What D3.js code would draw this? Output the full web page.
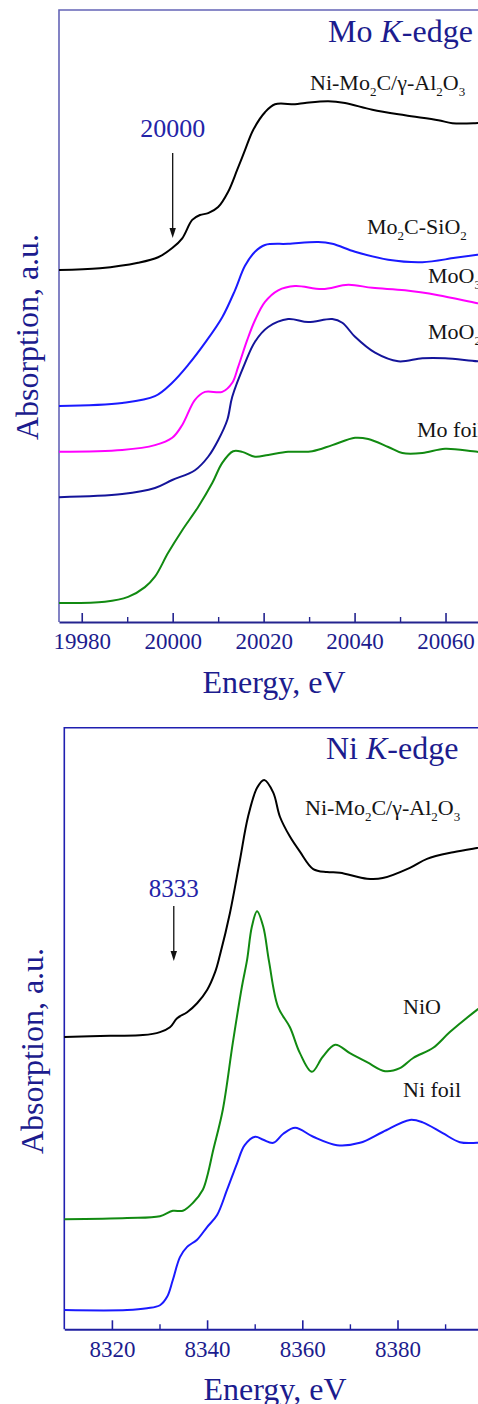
<!DOCTYPE html>
<html>
<head>
<meta charset="utf-8">
<script src="https://cdn.jsdelivr.net/npm/d3@7/dist/d3.min.js"></script>
<style>
  html, body { margin: 0; padding: 0; background: #ffffff; }
  svg { display: block; }
  text { font-family: "Liberation Serif", "Times New Roman", serif; }
</style>
</head>
<body>
<svg id="chart" width="478" height="1404"></svg>
<script>
// ---- Mo K-edge XANES (energy in eV, normalized absorption with vertical offsets) ----
const moEnergyTicks = [19980, 20000, 20020, 20040, 20060];
const moMinorTicks = [19990, 20010, 20030, 20050, 20070];

const moNiMo2C = [
  [19975, 57.5], [19984, 57.8], [19992.4, 58.7], [19996.8, 59.6], [19999.9, 61.1],
  [20002.1, 62.7], [20004.3, 65.7], [20006.0, 66.5], [20007.8, 66.8], [20010.0, 67.8],
  [20012.2, 70.3], [20014.2, 73.9], [20015.9, 77.1], [20017.7, 80.4], [20020.3, 83.3],
  [20022.5, 84.6], [20026.9, 84.6], [20029.1, 84.8], [20034.2, 85.1], [20037.9, 84.8],
  [20043.9, 83.7], [20051.1, 82.8], [20058.4, 82.0], [20061.5, 81.5], [20066.5, 81.5],
  [20070, 81.7]
];
const moMo2CSiO2 = [
  [19975, 35.3], [19988.9, 35.8], [19996.1, 36.9], [19999.9, 39.1], [20003.4, 42.0],
  [20007.1, 45.6], [20010.9, 49.8], [20013.7, 54.2], [20015.9, 58.2], [20018.1, 60.5],
  [20020.3, 61.6], [20025.4, 61.8], [20032.0, 62.1], [20035.1, 61.8], [20040.1, 60.5],
  [20047.4, 59.2], [20054.9, 58.8], [20062.1, 59.5], [20067.0, 60.0], [20070, 60.3]
];
const moMoO3 = [
  [19975, 27.8], [19988.9, 28.1], [19996.1, 28.9], [19999.9, 30.1], [20002.1, 32.2],
  [20004.9, 36.3], [20007.1, 37.6], [20010.9, 37.6], [20013.1, 39.1], [20014.4, 41.7],
  [20016.4, 46.1], [20018.1, 49.3], [20020.3, 52.3], [20023.2, 54.2], [20026.9, 54.9],
  [20032.9, 54.4], [20038.6, 55.1], [20043.9, 54.6], [20051.1, 54.2], [20058.4, 53.4],
  [20067.0, 52.1], [20070, 51.7]
];
const moMoO2 = [
  [19975, 20.4], [19988.9, 20.9], [19996.1, 21.9], [19999.9, 23.2], [20004.9, 24.8],
  [20007.8, 27.0], [20010.0, 29.7], [20012.0, 33.0], [20013.1, 36.8], [20015.9, 42.3],
  [20018.1, 45.8], [20021.0, 48.2], [20025.4, 49.5], [20029.8, 49.0], [20035.1, 49.5],
  [20037.3, 48.9], [20040.1, 46.6], [20044.5, 44.0], [20049.6, 42.6], [20054.9, 43.1],
  [20059.9, 43.1], [20067.0, 42.6], [20070, 42.5]
];
const moFoil = [
  [19975, 3.1], [19985.1, 3.3], [19990.2, 4.1], [19993.9, 5.7], [19996.1, 7.4],
  [19999.0, 11.3], [20002.1, 15.0], [20005.6, 18.8], [20008.7, 22.7], [20010.9, 26.0],
  [20013.3, 27.9], [20015.3, 27.8], [20018.1, 27.0], [20021.0, 27.3], [20025.4, 27.8],
  [20030.7, 27.9], [20035.1, 28.9], [20040.1, 30.1], [20043.0, 29.9], [20047.4, 28.6],
  [20050.5, 27.6], [20054.9, 27.6], [20059.9, 28.3], [20067.0, 27.8], [20070, 27.7]
];

// ---- Ni K-edge XANES ----
const niEnergyTicks = [8320, 8340, 8360, 8380];
const niMinorTicks = [8330, 8350, 8370, 8390];

const niNiMo2C = [
  [8310, 48.6], [8319.6, 48.8], [8326.5, 48.9], [8330.1, 49.4], [8332.2, 50.2],
  [8333.7, 51.7], [8335.8, 52.7], [8337.9, 54.2], [8340.0, 56.4], [8341.7, 59.4],
  [8342.7, 62.2], [8344.8, 69.2], [8346.9, 78.0], [8348.6, 85.2], [8350.5, 90.0],
  [8352.0, 91.3], [8353.9, 89.2], [8355.3, 85.2], [8357.4, 81.9], [8359.5, 79.4],
  [8362.3, 76.5], [8365.2, 76.0], [8367.9, 75.9], [8373.6, 74.9], [8376.9, 75.0],
  [8382.6, 76.7], [8386.2, 78.2], [8391.7, 79.3], [8396.7, 80.0], [8400, 80.4]
];
const niNiO = [
  [8310, 18.3], [8323.2, 18.5], [8330.1, 18.8], [8332.8, 19.7], [8334.9, 19.7],
  [8337.0, 21.0], [8339.1, 23.2], [8340.2, 26.0], [8341.2, 29.5], [8343.3, 36.5],
  [8345.4, 47.6], [8347.3, 56.9], [8348.4, 61.4], [8349.4, 66.9], [8350.5, 69.5],
  [8351.8, 66.9], [8353.0, 61.2], [8354.9, 53.6], [8357.4, 50.2],
  [8359.5, 45.9], [8362.0, 42.8], [8364.3, 45.3], [8366.9, 47.3], [8370.0, 45.9],
  [8373.6, 44.4], [8377.4, 42.9], [8380.5, 43.4], [8383.3, 45.1], [8387.5, 46.8],
  [8391.0, 49.4], [8396.7, 53.1], [8400, 55.0]
];
const niFoil = [
  [8310, 3.2], [8323.2, 3.2], [8327.4, 3.5], [8330.1, 4.0], [8331.6, 5.4],
  [8332.8, 8.2], [8334.3, 12.0], [8335.8, 13.7], [8337.9, 14.9], [8340.0, 17.0],
  [8342.1, 19.0], [8344.2, 23.2], [8346.3, 27.6], [8347.9, 30.6], [8350.1, 32.0],
  [8351.8, 31.5], [8353.9, 31.0], [8356.0, 32.5], [8358.5, 33.5], [8362.3, 32.0],
  [8367.3, 30.6], [8372.1, 31.0], [8376.9, 32.8], [8382.6, 34.8], [8385.3, 34.4],
  [8389.5, 32.6], [8393.1, 31.1], [8396.7, 31.0], [8400, 31.2]
];

// ---- styling ----
const NAVY = "#1c1c8e";
const LABEL_BLUE = "#2424a8";
const svg = d3.select("#chart");

// Text helper: "_x" renders x as a subscript, "*x" renders x in italics
function richText(sel, str, size) {
  const subSize = Math.round(size * 0.6);
  const shift = size * 0.28;
  let pendingRise = 0;
  for (let i = 0; i < str.length; i++) {
    const ch = str[i];
    if (ch === "_" && i + 1 < str.length) {
      sel.append("tspan").attr("font-size", subSize).attr("dy", shift).text(str[i + 1]);
      pendingRise = -shift;
      i++;
    } else {
      const span = sel.append("tspan").attr("font-size", size);
      if (pendingRise) { span.attr("dy", pendingRise); pendingRise = 0; }
      if (ch === "*" && i + 1 < str.length) {
        span.attr("font-style", "italic").text(str[i + 1]);
        i++;
      } else {
        span.text(ch);
      }
    }
  }
}

function drawPanel(cfg) {
  const g = svg.append("g");
  const x = d3.scaleLinear().domain(cfg.xDomain).range([cfg.left, cfg.right]);
  const y = d3.scaleLinear().domain([0, 100]).range([cfg.bottom, cfg.top]);

  // frame (left + top)
  g.append("path")
    .attr("d", `M${cfg.left},${cfg.bottom}V${cfg.top}H${cfg.right}V${cfg.bottom}`)
    .attr("fill", "none")
    .attr("stroke", cfg.frameColor)
    .attr("stroke-width", 1.6);

  // major ticks with labels (ticks point inward)
  const axis = g.append("g")
    .attr("transform", `translate(0,${cfg.bottom})`)
    .call(d3.axisBottom(x).tickValues(cfg.ticks).tickFormat(d3.format("d"))
      .tickSizeInner(-9).tickSizeOuter(0).tickPadding(11));
  axis.select(".domain").attr("stroke", cfg.axisColor).attr("stroke-width", 2);
  axis.selectAll(".tick line").attr("stroke", cfg.axisColor).attr("stroke-width", 1.6);
  axis.selectAll(".tick text")
    .attr("fill", NAVY)
    .attr("font-size", 23);

  // minor ticks
  const minor = g.append("g")
    .attr("transform", `translate(0,${cfg.bottom})`)
    .call(d3.axisBottom(x).tickValues(cfg.minorTicks).tickFormat("")
      .tickSizeInner(-5).tickSizeOuter(0));
  minor.select(".domain").remove();
  minor.selectAll(".tick text").remove();
  minor.selectAll(".tick line").attr("stroke", cfg.axisColor).attr("stroke-width", 1.4);

  // spectra
  const line = d3.line()
    .x(d => x(d[0]))
    .y(d => y(d[1]))
    .curve(d3.curveCatmullRom.alpha(0.5));
  cfg.series.forEach(s => {
    g.append("path")
      .datum(s.data)
      .attr("d", line)
      .attr("fill", "none")
      .attr("stroke", s.color)
      .attr("stroke-width", 2)
      .attr("stroke-linejoin", "round");
  });

  // curve labels
  cfg.labels.forEach(l => {
    const t = g.append("text")
      .attr("x", l.x).attr("y", l.y)
      .attr("font-size", 22)
      .attr("fill", "#151515");
    richText(t, l.text, 22);
  });

  // title
  const title = g.append("text")
    .attr("x", cfg.titleX).attr("y", cfg.titleY)
    .attr("font-size", 32)
    .attr("fill", NAVY);
  richText(title, cfg.title, 32);

  // edge position marker
  const ax = x(cfg.edge.value);
  g.append("text")
    .attr("x", ax).attr("y", cfg.edge.labelY)
    .attr("text-anchor", "middle")
    .attr("font-size", cfg.edge.fontSize)
    .attr("fill", LABEL_BLUE)
    .text(cfg.edge.value);
  g.append("line")
    .attr("x1", ax).attr("x2", ax)
    .attr("y1", cfg.edge.y1).attr("y2", cfg.edge.y2 - 8)
    .attr("stroke", "#111").attr("stroke-width", 1.3);
  g.append("path")
    .attr("d", `M${ax - 3.2},${cfg.edge.y2 - 10}L${ax + 3.2},${cfg.edge.y2 - 10}L${ax},${cfg.edge.y2}Z`)
    .attr("fill", "#111");

  // axis titles
  g.append("text")
    .attr("x", cfg.xTitleX).attr("y", cfg.xTitleY)
    .attr("text-anchor", "middle")
    .attr("font-size", 32)
    .attr("fill", NAVY)
    .text("Energy, eV");
  g.append("text")
    .attr("transform", `translate(${cfg.yTitleX},${cfg.yTitleY}) rotate(-90)`)
    .attr("text-anchor", "middle")
    .attr("font-size", 32)
    .attr("fill", NAVY)
    .text("Absorption, a.u.");
}

drawPanel({
  xDomain: [19975, 20070], left: 59, right: 491, top: 10, bottom: 622,
  ticks: moEnergyTicks, minorTicks: moMinorTicks,
  frameColor: "#6464b6", axisColor: "#24248f",
  series: [
    { data: moNiMo2C, color: "#000000" },
    { data: moMo2CSiO2, color: "#1a1aff" },
    { data: moMoO3, color: "#ff00ff" },
    { data: moMoO2, color: "#14149a" },
    { data: moFoil, color: "#118a11" }
  ],
  labels: [
    { text: "Ni-Mo_2C/γ-Al_2O_3", x: 310, y: 90 },
    { text: "Mo_2C-SiO_2", x: 367, y: 234 },
    { text: "MoO_3", x: 428, y: 283 },
    { text: "MoO_2", x: 428, y: 339 },
    { text: "Mo foil", x: 417, y: 437 }
  ],
  title: "Mo *K-edge", titleX: 328, titleY: 42,
  edge: { value: 20000, labelY: 137, fontSize: 26, y1: 153, y2: 238 },
  xTitleX: 274, xTitleY: 693,
  yTitleX: 38, yTitleY: 337
});

drawPanel({
  xDomain: [8310, 8400], left: 64.3, right: 492.7, top: 727.7, bottom: 1329.3,
  ticks: niEnergyTicks, minorTicks: niMinorTicks,
  frameColor: "#1f1fb0", axisColor: "#1f1fa0",
  series: [
    { data: niNiMo2C, color: "#000000" },
    { data: niNiO, color: "#118a11" },
    { data: niFoil, color: "#1a1aff" }
  ],
  labels: [
    { text: "Ni-Mo_2C/γ-Al_2O_3", x: 305, y: 815 },
    { text: "NiO", x: 403, y: 1014 },
    { text: "Ni foil", x: 403, y: 1097 }
  ],
  title: "Ni *K-edge", titleX: 326, titleY: 759,
  edge: { value: 8333, labelY: 897, fontSize: 25, y1: 906, y2: 961 },
  xTitleX: 275, xTitleY: 1400,
  yTitleX: 43, yTitleY: 1051
});
</script>
</body>
</html>
